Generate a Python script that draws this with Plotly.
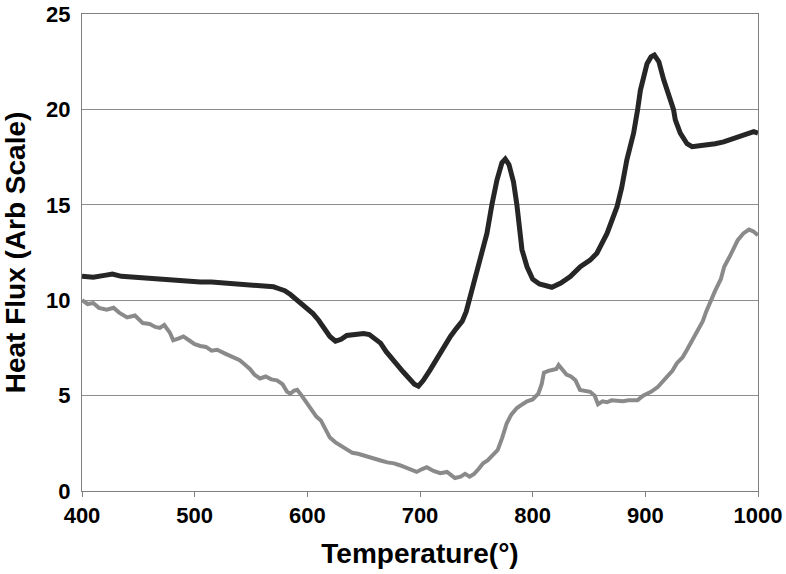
import plotly.graph_objects as go

# dark curve (upper trace)
temp_dark = [400, 410, 420, 427, 435, 445, 455, 465, 475, 485, 495, 505, 515, 525,
             535, 545, 555, 565, 570, 575, 580, 585, 590, 595, 600, 605, 610, 615,
             620, 625, 630, 635, 640, 645, 650, 655, 660, 665, 670, 675, 680, 685,
             690, 695, 698.6, 703, 709, 713, 718, 722, 727, 732, 737.5, 741, 744.6,
             748, 752, 756, 759.4, 763.8, 768.3, 772.7, 775.7, 779, 783, 786, 788,
             790.5, 795, 800, 806, 813, 817, 825, 833.4, 842.3, 851, 857, 866, 874.9,
             879, 883.6, 889.6, 893.2, 895.6, 901.5, 905, 908, 912, 916.3, 922.2, 925,
             926.6, 931, 937, 941.5, 948, 954.7, 962, 969.5, 977, 984.4, 990, 996.2, 1000]
flux_dark = [11.25, 11.2, 11.3, 11.37, 11.25, 11.2, 11.15, 11.1, 11.05, 11.05, 11.0, 10.95,
             10.95, 10.9, 10.85, 10.85, 10.8, 10.75, 10.7, 10.6, 10.5, 10.3, 10.05, 9.8,
             9.6, 9.3, 8.95, 8.5, 8.1, 7.85, 7.95, 8.15, 8.2, 8.25, 8.25, 8.2, 8.0, 7.75,
             7.3, 6.9, 6.6, 6.25, 5.9, 5.6, 5.5, 5.8, 6.35, 6.75, 7.2, 7.6, 8.1, 8.5,
             8.9, 9.4, 10.2, 11.0, 11.76, 12.6, 13.5, 15.0, 16.3, 17.2, 17.4, 17.1, 16.2,
             15.0, 13.8, 12.65, 11.75, 11.1, 10.85, 10.7, 10.68, 10.9, 11.24, 11.76, 12.1,
             12.46, 13.5, 14.9, 15.9, 17.36, 18.76, 20.0, 21.0, 22.4, 22.75, 22.85, 22.5,
             21.55, 20.5, 20.0, 19.45, 18.76, 18.2, 18.05, 18.1, 18.14, 18.2, 18.3, 18.45,
             18.6, 18.65, 18.84, 18.76]

# gray curve (lower trace)
temp_gray = [400, 405, 410, 415, 422, 428, 433, 440, 447, 454, 460, 465, 469, 473, 478,
             481, 486, 490, 495, 500, 505, 510, 515, 520, 527, 534, 540, 545, 549, 553,
             558, 563, 568, 573, 578, 582, 585, 588, 591, 595, 600, 604, 608, 612, 616,
             620, 625, 630, 635, 640, 645, 650, 655, 660, 665, 671, 677, 682, 688, 693,
             697, 702, 706, 712, 718, 724, 728, 731, 736, 740, 744, 748, 752, 756, 760,
             765, 769, 773, 777, 781, 786, 791, 795, 800, 805, 808, 810, 814, 818, 821,
             823, 827, 830, 834, 838, 842, 846, 851, 855, 858, 862, 866, 870, 875, 880,
             885, 890, 893, 898, 905, 911, 915, 920, 924, 928, 933, 937, 942, 946, 951,
             954, 958, 962, 967, 970, 975, 982, 987, 992, 996, 1000]
flux_gray = [10.0, 9.8, 9.85, 9.6, 9.5, 9.6, 9.35, 9.1, 9.2, 8.8, 8.75, 8.6, 8.55, 8.7,
             8.3, 7.9, 8.0, 8.1, 7.9, 7.7, 7.6, 7.55, 7.35, 7.4, 7.2, 7.0, 6.85, 6.6,
             6.4, 6.1, 5.9, 6.0, 5.85, 5.8, 5.6, 5.2, 5.1, 5.25, 5.3, 5.0, 4.6, 4.3, 3.9,
             3.7, 3.2, 2.8, 2.55, 2.35, 2.15, 2.0, 1.95, 1.85, 1.75, 1.7, 1.6, 1.5, 1.45,
             1.35, 1.2, 1.1, 1.0, 1.15, 1.25, 1.05, 0.93, 1.0, 0.85, 0.68, 0.75, 0.9,
             0.75, 0.9, 1.15, 1.45, 1.6, 1.95, 2.15, 2.8, 3.55, 4.0, 4.35, 4.55, 4.7, 4.8,
             5.1, 5.6, 6.2, 6.3, 6.35, 6.4, 6.6, 6.3, 6.1, 6.0, 5.8, 5.3, 5.25, 5.2, 5.0,
             4.55, 4.7, 4.65, 4.75, 4.7, 4.7, 4.75, 4.75, 4.75, 5.0, 5.2, 5.45, 5.7, 6.0,
             6.3, 6.7, 7.0, 7.4, 7.9, 8.3, 8.9, 9.4, 10.0, 10.5, 11.1, 11.75, 12.3, 13.15,
             13.5, 13.7, 13.6, 13.4]

x_ticks = [400, 500, 600, 700, 800, 900, 1000]
y_ticks = [0, 5, 10, 15, 20, 25]

fig = go.Figure()
fig.add_trace(go.Scatter(x=temp_gray, y=flux_gray, mode="lines",
                         line=dict(color="#8a8a8a", width=4), showlegend=False))
fig.add_trace(go.Scatter(x=temp_dark, y=flux_dark, mode="lines",
                         line=dict(color="#262626", width=5), showlegend=False))

font_family = "Liberation Sans, Arial, sans-serif"
fig.update_layout(
    width=786, height=574,
    margin=dict(l=82, r=28, t=14, b=83),
    paper_bgcolor="white", plot_bgcolor="white",
    font=dict(family=font_family, color="black"),
)
fig.update_xaxes(
    range=[400, 1000], tickvals=x_ticks, ticktext=[f"<b>{t}</b>" for t in x_ticks],
    tickfont=dict(size=22), ticks="outside", ticklen=5, tickcolor="#808080",
    ticklabeloverflow="allow",
    showline=True, linecolor="#808080", linewidth=1, mirror=True,
    showgrid=False, zeroline=False, automargin=False,
    title=dict(text="<b>Temperature(°)</b>", font=dict(size=28), standoff=15),
)
fig.update_yaxes(
    range=[0, 25], tickvals=y_ticks, ticktext=[f"<b>{t}</b>" for t in y_ticks],
    tickfont=dict(size=22), ticks="", ticklabelstandoff=6,
    ticklabeloverflow="allow",
    showline=True, linecolor="#808080", linewidth=1, mirror=True,
    showgrid=True, gridcolor="#8c8c8c", gridwidth=1, zeroline=False, automargin=False,
    title=dict(text="<b>Heat Flux (Arb Scale)</b>", font=dict(size=28), standoff=16),
)

# drop the browser's default 8px body margin so the figure fills the window
fig.write_html("out.html", config={"displayModeBar": False},
               post_script="document.body.style.margin = '0';")
